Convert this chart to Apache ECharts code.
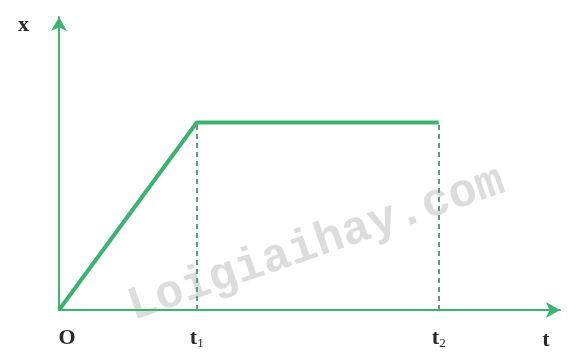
<!DOCTYPE html>
<html>
<head>
<meta charset="utf-8">
<script src="https://cdn.jsdelivr.net/npm/echarts@6/dist/echarts.min.js"></script>
<style>
  html, body { margin: 0; padding: 0; background: #fff; }
  #main { width: 568px; height: 360px; }
</style>
</head>
<body>
<div id="main"></div>
<script>
// time marks (t1, t2) and position values
var tMarks = [2.75, 7.58];
var tLabels = ['O', 't1', 't2'];
var xValues = [0, 64, 64];
var tValues = [0, tMarks[0], tMarks[1]];

var green = '#3cb371';
var serif = '"Liberation Serif", "DejaVu Serif", serif';

onload = function () {
    var myChart = echarts.init(document.getElementById('main'));

    var points = tValues.map(function (t, i) { return [t, xValues[i]]; });

    myChart.setOption({
        backgroundColor: '#fff',
        animation: false,
        grid: { left: 59, right: 8, top: 17, bottom: 50 },
        graphic: [{
            type: 'text',
            left: 122,
            top: 158,
            rotation: 19 * Math.PI / 180,
            originX: 0,
            originY: 0,
            silent: true,
            style: {
                text: 'Loigiaihay.com',
                x: 0, y: 0,
                font: 'bold 47px "Liberation Mono", monospace',
                fill: 'rgba(185,185,185,0.5)'
            }
        }],
        xAxis: {
            type: 'value',
            min: 0,
            max: 10,
            name: 't',
            nameLocation: 'end',
            nameGap: -14,
            nameTextStyle: {
                fontFamily: serif, fontSize: 22, fontWeight: 'bold', color: '#2a2a2a',
                align: 'center', verticalAlign: 'top', padding: [19, 0, 0, 0]
            },
            splitLine: { show: false },
            axisTick: { show: false },
            axisLine: {
                lineStyle: { color: green, width: 2 },
                symbol: ['none', 'arrow'],
                symbolSize: [12, 14]
            },
            axisLabel: {
                customValues: tValues,
                margin: 17,
                formatter: function (v) {
                    var i = tValues.indexOf(v);
                    var s = tLabels[i];
                    if (s.length > 1) return '{a|t}{s|' + s.slice(1) + '}';
                    return '{o|' + s + '}';
                },
                rich: {
                    a: { fontFamily: serif, fontSize: 22, fontWeight: 'bold', color: '#2a2a2a' },
                    o: { fontFamily: serif, fontSize: 22, fontWeight: 'bold', color: '#2a2a2a', padding: [0, 0, 0, 16] },
                    s: { fontFamily: serif, fontSize: 13, color: '#2a2a2a', padding: [10, 0, 0, 0] }
                }
            }
        },
        yAxis: {
            type: 'value',
            min: 0,
            max: 100,
            name: 'x',
            nameLocation: 'end',
            nameGap: -8,
            nameTextStyle: {
                fontFamily: serif, fontSize: 22, fontWeight: 'bold', color: '#2a2a2a',
                align: 'right', verticalAlign: 'middle', padding: [0, 30, 0, 0]
            },
            splitLine: { show: false },
            axisTick: { show: false },
            axisLabel: { show: false },
            axisLine: {
                show: true,
                lineStyle: { color: green, width: 2 },
                symbol: ['none', 'arrow'],
                symbolSize: [12, 14]
            }
        },
        series: [{
            type: 'line',
            data: points,
            showSymbol: false,
            lineStyle: { color: green, width: 4 },
            markLine: {
                silent: true,
                symbol: ['none', 'none'],
                label: { show: false },
                lineStyle: { color: '#5f9c80', width: 2, type: [5, 4] },
                data: tMarks.map(function (t, i) {
                    return [{ coord: [t, 0] }, { coord: [t, xValues[i + 1]] }];
                })
            }
        }]
    });
}
</script>
</body>
</html>
